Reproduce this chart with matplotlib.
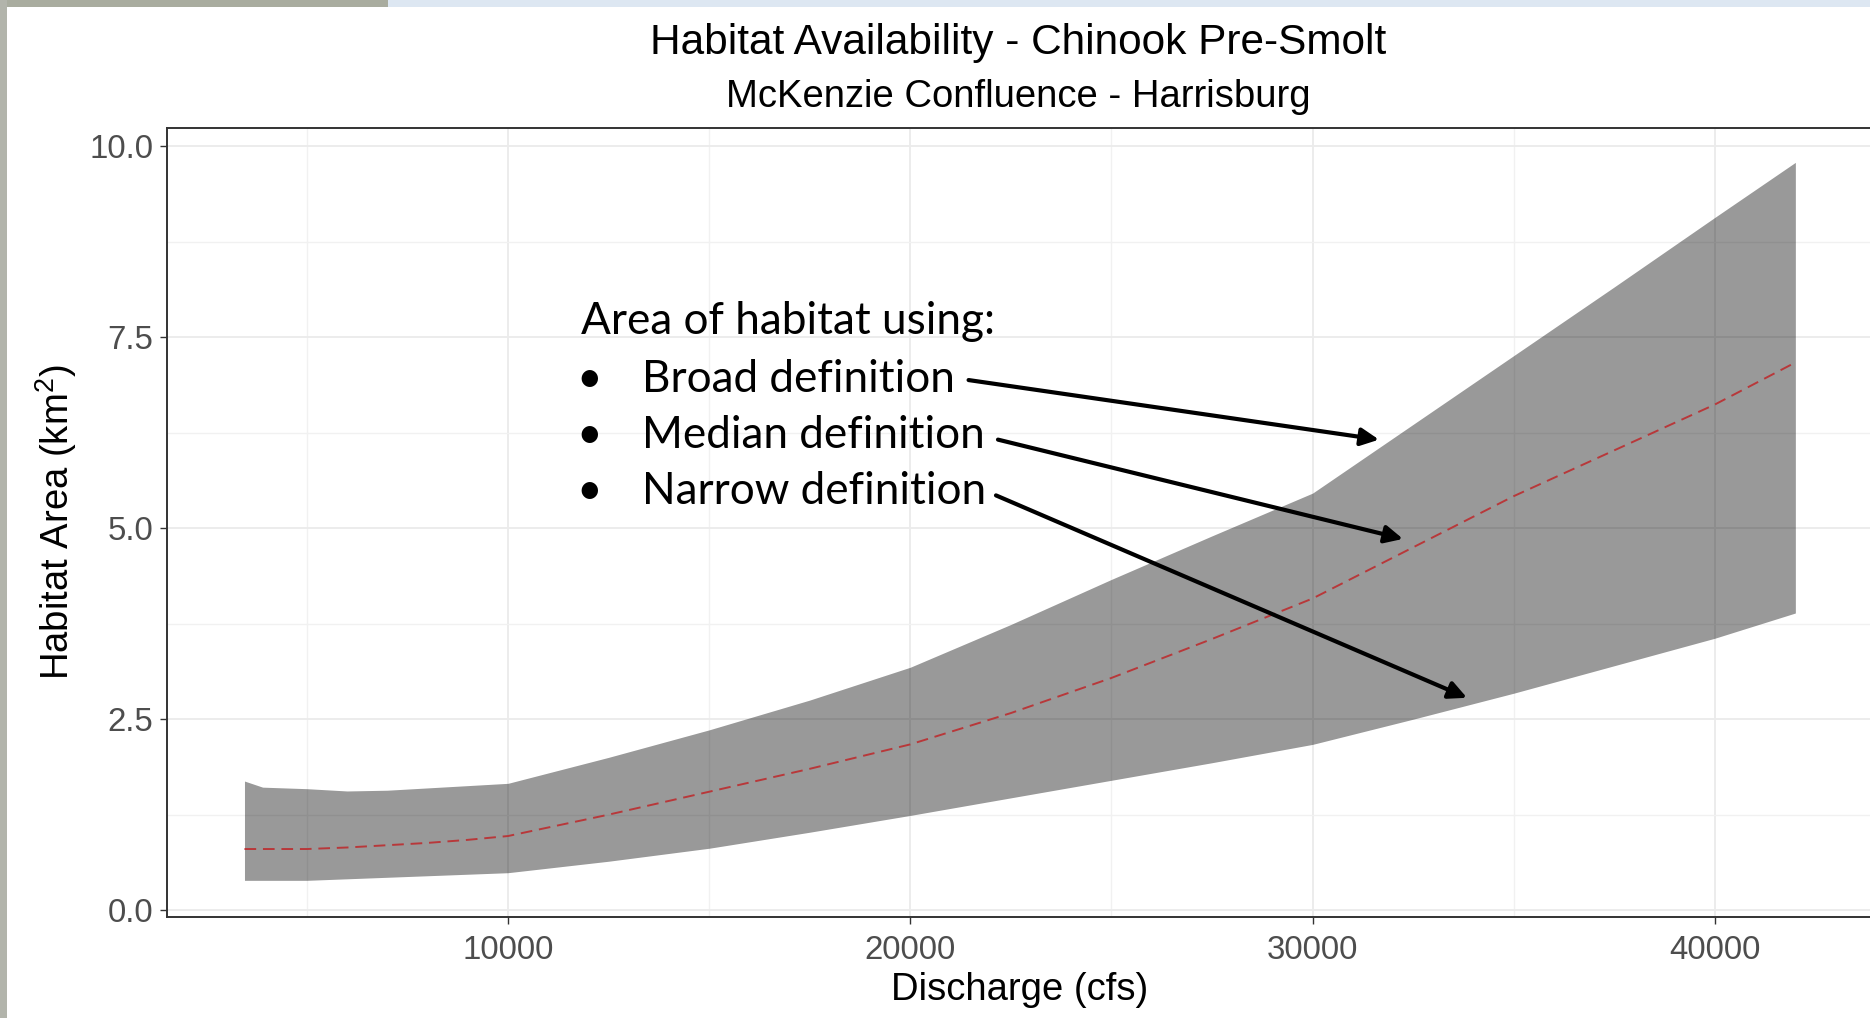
import numpy as np
import matplotlib.pyplot as plt
from matplotlib.patches import Rectangle
from matplotlib.ticker import MultipleLocator

# Data
discharge = [3450, 3900, 5000, 6000, 7000, 8000, 9000, 10000, 12500, 15000, 17500,
             20000, 22500, 25000, 27500, 30000, 32500, 35000, 37500, 40000, 42000]
broad = [1.69, 1.61, 1.59, 1.56, 1.57, 1.60, 1.63, 1.66, 2.00, 2.36, 2.75,
         3.18, 3.74, 4.33, 4.90, 5.46, 6.36, 7.26, 8.16, 9.07, 9.79]
narrow = [0.39, 0.39, 0.39, 0.41, 0.43, 0.45, 0.47, 0.49, 0.64, 0.81, 1.02,
          1.24, 1.47, 1.70, 1.93, 2.17, 2.50, 2.84, 3.20, 3.56, 3.89]
median = [0.80, 0.80, 0.80, 0.82, 0.85, 0.88, 0.92, 0.97, 1.25, 1.55, 1.85,
          2.17, 2.58, 3.04, 3.55, 4.08, 4.75, 5.42, 6.02, 6.62, 7.17]

x_ticks = [10000, 20000, 30000, 40000]
y_ticks = [0.0, 2.5, 5.0, 7.5, 10.0]

labels = ["Broad definition", "Median definition", "Narrow definition"]
arrow_start = [(21449, 6.94), (22180, 6.16), (22130, 5.43)]
arrow_end = [(31651, 6.16), (32247, 4.86), (33838, 2.78)]

plt.rcParams['font.family'] = ['Liberation Sans', 'DejaVu Sans']
plt.rcParams['mathtext.fontset'] = 'custom'
plt.rcParams['mathtext.rm'] = 'Liberation Sans'

fig = plt.figure(figsize=(18.7, 10.18), dpi=100)
ax = fig.add_axes([167 / 1870, 101 / 1018, 1706 / 1870, 789 / 1018])

# grid
ax.xaxis.set_major_locator(MultipleLocator(10000))
ax.xaxis.set_minor_locator(MultipleLocator(5000))
ax.yaxis.set_major_locator(MultipleLocator(2.5))
ax.yaxis.set_minor_locator(MultipleLocator(1.25))
ax.grid(which='major', color='#ebebeb', lw=1.3, zorder=0)
ax.grid(which='minor', color='#f1f1f1', lw=1.0, zorder=0)
ax.set_axisbelow(True)

ax.fill_between(discharge, narrow, broad, color='black', alpha=0.4, lw=0, zorder=1)
ax.plot(discharge, median, color='#b8383a', lw=1.4, dashes=(6, 3.5), zorder=2)

ax.set_xlim(1524, 43930)
ax.set_ylim(-0.09, 10.24)
ax.set_xticks(x_ticks)
ax.set_xticklabels([str(v) for v in x_ticks])
ax.set_yticks(y_ticks)
ax.set_yticklabels([f"{v:.1f}" for v in y_ticks])

ax.tick_params(which='major', length=5, width=1.0, color='#333333',
               labelcolor='#4d4d4d', labelsize=23.8, pad=5)
ax.tick_params(axis='x', pad=8)
ax.tick_params(which='minor', length=0)
for s in ax.spines.values():
    s.set_color('#333333')
    s.set_linewidth(1.4)

ax.set_xlabel("Discharge (cfs)", fontsize=27.5, color='black', labelpad=4)
ax.set_ylabel(r"Habitat Area ($\mathregular{km^2}$)", fontsize=27.5, color='black', labelpad=7)

fig.text(1018 / 1870, 1 - 43 / 1018, "Habitat Availability - Chinook Pre-Smolt",
         fontsize=30.5, ha='center', va='center', color='black')
fig.text(1018 / 1870, 1 - 97 / 1018, "McKenzie Confluence - Harrisburg",
         fontsize=27.5, ha='center', va='center', color='black')

# annotation text
ann_font = ['Lato', 'DejaVu Sans']
ax.text(11814, 7.547, "Area of habitat using:", fontsize=31.8, family=ann_font,
        va='baseline', ha='left', color='black')
for lab, yb in zip(labels, [6.79, 6.055, 5.32]):
    ax.text(11690, yb, "\u2022", fontsize=31.8, family=ann_font, va='baseline', ha='left')
    ax.text(13330, yb, lab, fontsize=31.8, family=ann_font, va='baseline', ha='left')

for (xs, ys), (xe, ye) in zip(arrow_start, arrow_end):
    ax.annotate('', xy=(xe, ye), xytext=(xs, ys),
                arrowprops=dict(arrowstyle='-|>,head_length=0.45,head_width=0.22',
                                lw=3.0, color='black', mutation_scale=24,
                                shrinkA=0, shrinkB=0), zorder=5)

# screenshot edges
fig.add_artist(Rectangle((0, 1 - 7 / 1018), 388 / 1870, 7 / 1018, transform=fig.transFigure,
                         color='#a9ac9f', lw=0))
fig.add_artist(Rectangle((388 / 1870, 1 - 7 / 1018), 1 - 388 / 1870, 7 / 1018,
                         transform=fig.transFigure, color='#dde7f2', lw=0))
fig.add_artist(Rectangle((0, 0), 7 / 1870, 1, transform=fig.transFigure,
                         color='#b2b4ab', lw=0))

fig.savefig("out.png", dpi=100)
